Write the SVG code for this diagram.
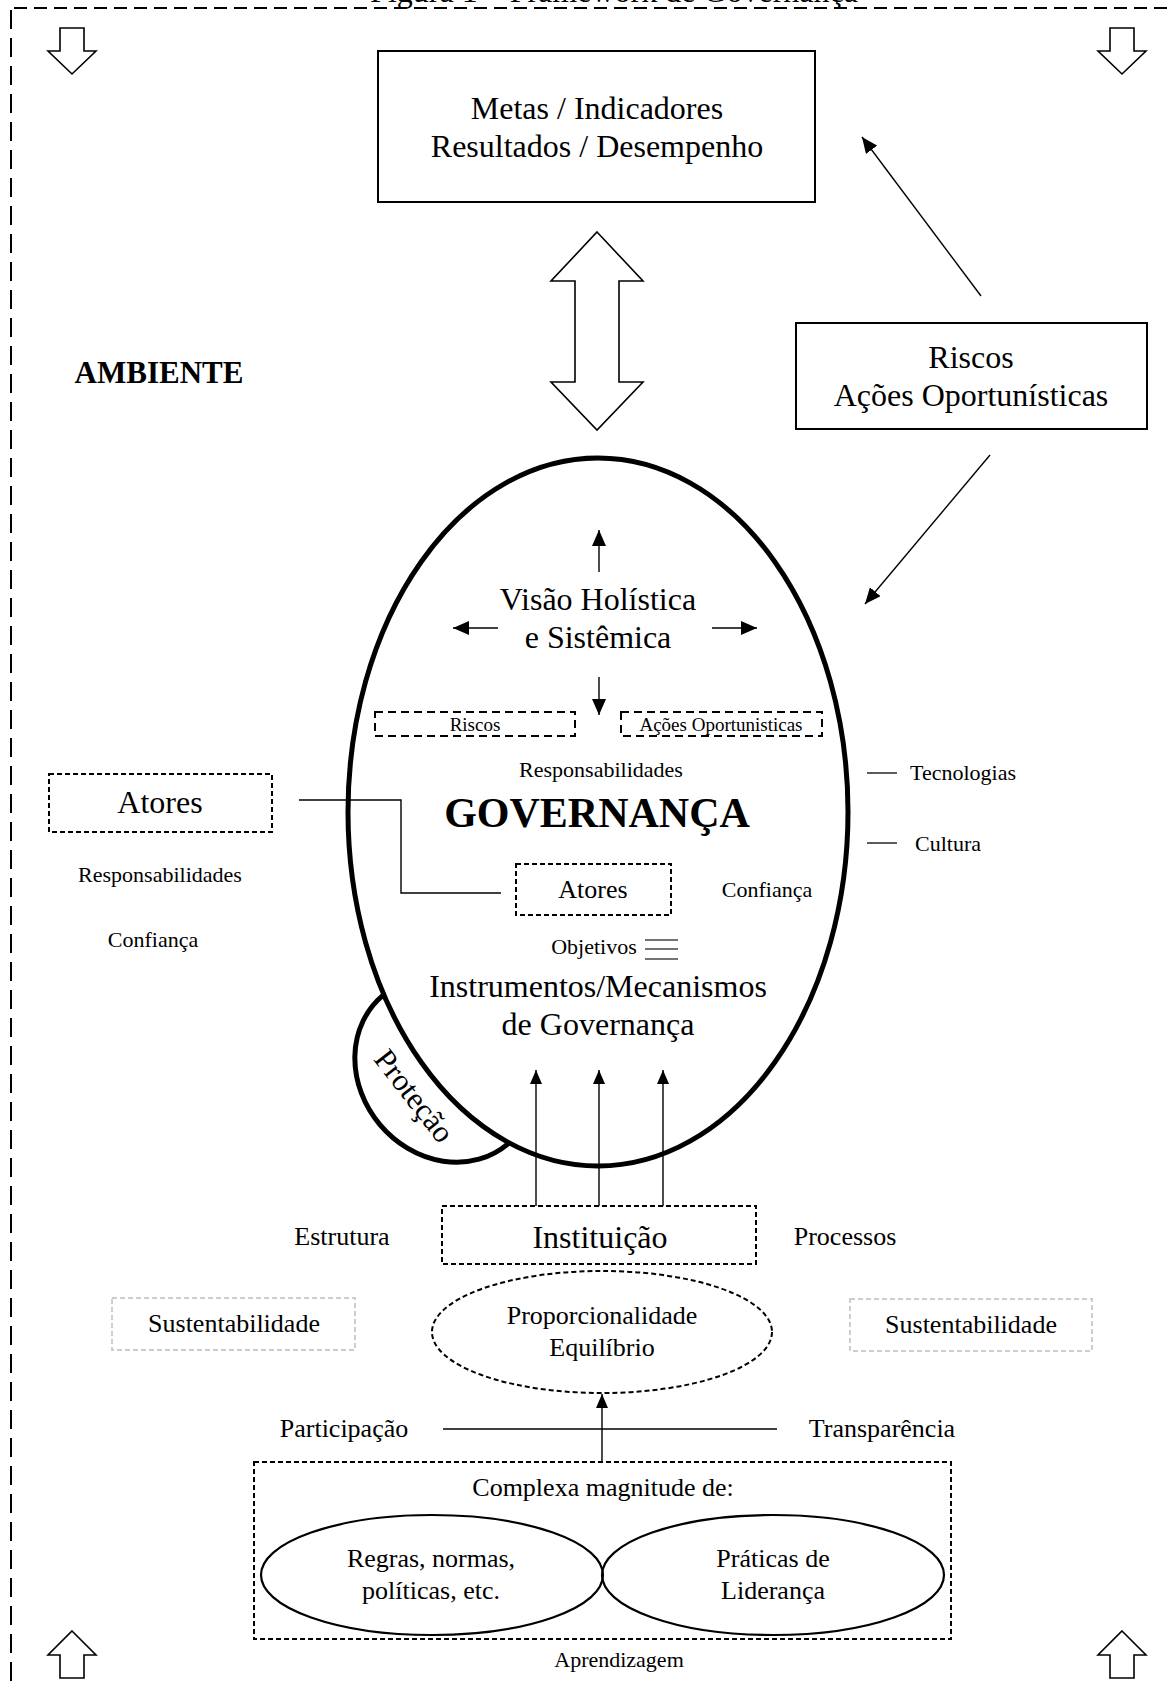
<svg xmlns="http://www.w3.org/2000/svg" width="1172" height="1690" viewBox="0 0 1172 1690">
<style>
text{font-family:"Liberation Serif","Times New Roman",serif;fill:#000;text-anchor:middle}
.t32{font-size:32px}
.t26{font-size:26px}
.t22{font-size:22px}
.t19{font-size:19px}
.box{fill:#fff;stroke:#000;stroke-width:2}
.dbox{fill:none;stroke:#000;stroke-width:2;stroke-dasharray:5 3}
.dsmall{fill:none;stroke:#000;stroke-width:2;stroke-dasharray:8 5}
.gbox{fill:none;stroke:#cdcdcd;stroke-width:2;stroke-dasharray:5 3}
.hollow{fill:#fff;stroke:#000;stroke-width:1.6;stroke-linejoin:miter}
.ln{fill:none;stroke:#000;stroke-width:1.4}
.thick{fill:#fff;stroke:#000;stroke-width:5}
</style>
<defs>
<marker id="ah" markerUnits="userSpaceOnUse" markerWidth="16" markerHeight="14" refX="16" refY="7" orient="auto">
<path d="M0,0 L16,7 L0,14 z" fill="#000"/>
</marker>
<marker id="ahs" markerUnits="userSpaceOnUse" markerWidth="14" markerHeight="12" refX="14" refY="6" orient="auto">
<path d="M0,0 L14,6 L0,12 z" fill="#000"/>
</marker>
</defs>

<g id="frame">
<text class="t32" x="614" y="2">Figura 1 – Framework de Governança</text>
<line x1="14" y1="8" x2="1172" y2="8" stroke="#000" stroke-width="2" stroke-dasharray="13 7"/>
<line x1="11" y1="10" x2="11" y2="1690" stroke="#000" stroke-width="2" stroke-dasharray="19 9"/>
</g>

<g id="env-arrows">
<polygon class="hollow" points="60,28 84,28 84,51 96,51 72,74 48,51 60,51"/>
<polygon class="hollow" points="1110,28 1134,28 1134,51 1146,51 1122,74 1098,51 1110,51"/>
<polygon class="hollow" points="72,1631 96,1655 84,1655 84,1678 60,1678 60,1655 48,1655"/>
<polygon class="hollow" points="1122,1631 1146,1655 1134,1655 1134,1678 1110,1678 1110,1655 1098,1655"/>
</g>

<g id="ambiente"><text x="159" y="383" style="font-size:31px;font-weight:bold">AMBIENTE</text></g>

<g id="metas">
<rect class="box" x="378" y="51" width="437" height="151"/>
<text class="t32" x="597" y="119">Metas / Indicadores</text>
<text class="t32" x="597" y="157">Resultados / Desempenho</text>
</g>

<g id="riscos-box">
<rect class="box" x="796" y="323" width="351" height="106"/>
<text class="t32" x="971" y="368">Riscos</text>
<text class="t32" x="971" y="406">Ações Oportunísticas</text>
</g>

<g id="double-arrow">
<polygon class="hollow" points="597,232 643,281 619,281 619,382 643,382 597,430 551,382 575,382 575,281 551,281"/>
</g>

<g id="protecao">
<ellipse class="thick" cx="445" cy="1070" rx="97" ry="85" transform="rotate(50 445 1070)"/>
<text transform="translate(414 1096) rotate(52)" x="0" y="10" style="font-size:31px">Proteção</text>
</g>

<g id="governanca">
<ellipse class="thick" cx="598" cy="812" rx="250" ry="354"/>
<text class="t32" x="598" y="610">Visão Holística</text>
<text class="t32" x="598" y="648">e Sistêmica</text>
<text class="t22" x="601" y="777">Responsabilidades</text>
<text x="597" y="827" style="font-size:42px;font-weight:bold">GOVERNANÇA</text>
<text class="t22" x="767" y="897">Confiança</text>
<text class="t22" x="594" y="954">Objetivos</text>
<line x1="645" y1="940" x2="678" y2="940" stroke="#444" stroke-width="1.6"/>
<line x1="645" y1="949" x2="678" y2="949" stroke="#444" stroke-width="1.6"/>
<line x1="645" y1="959" x2="678" y2="959" stroke="#444" stroke-width="1.6"/>
<text class="t32" x="598" y="997">Instrumentos/Mecanismos</text>
<text class="t32" x="598" y="1035">de Governança</text>
</g>

<g id="inner-riscos">
<rect class="dsmall" x="375" y="712" width="200" height="24"/>
<text class="t19" x="475" y="731">Riscos</text>
</g>
<g id="inner-acoes">
<rect class="dsmall" x="621" y="712" width="201" height="24"/>
<text class="t19" x="721" y="731">Ações Oportunisticas</text>
</g>

<g id="atores-inner">
<rect class="dbox" x="516" y="864" width="155" height="51"/>
<text class="t26" x="593" y="898">Atores</text>
</g>

<g id="atores-outer">
<rect class="dbox" x="49" y="774" width="223" height="58"/>
<text class="t32" x="160" y="813">Atores</text>
<text class="t22" x="160" y="882">Responsabilidades</text>
<text class="t22" x="153" y="947">Confiança</text>
</g>

<g id="tecnologias">
<line x1="867" y1="773" x2="897" y2="773" stroke="#333" stroke-width="1.6"/>
<text class="t22" x="910" y="780" style="text-anchor:start">Tecnologias</text>
</g>
<g id="cultura">
<line x1="867" y1="843" x2="897" y2="843" stroke="#333" stroke-width="1.6"/>
<text class="t22" x="915" y="851" style="text-anchor:start">Cultura</text>
</g>

<g id="instituicao">
<rect class="dbox" x="442" y="1206" width="314" height="58"/>
<text class="t32" x="600" y="1248">Instituição</text>
<text class="t26" x="342" y="1245">Estrutura</text>
<text class="t26" x="845" y="1245">Processos</text>
</g>

<g id="sust-left">
<rect class="gbox" x="112" y="1298" width="243" height="52"/>
<text class="t26" x="234" y="1332">Sustentabilidade</text>
</g>
<g id="sust-right">
<rect class="gbox" x="850" y="1299" width="242" height="52"/>
<text class="t26" x="971" y="1333">Sustentabilidade</text>
</g>

<g id="proporcionalidade">
<ellipse class="dbox" cx="602" cy="1332" rx="170" ry="61"/>
<text class="t26" x="602" y="1324">Proporcionalidade</text>
<text class="t26" x="602" y="1356">Equilíbrio</text>
</g>

<g id="participacao">
<text class="t26" x="344" y="1437">Participação</text>
<text class="t26" x="882" y="1437">Transparência</text>
</g>

<g id="complexa">
<rect class="dbox" x="254" y="1462" width="697" height="177"/>
<text class="t26" x="603" y="1496">Complexa magnitude de:</text>
<ellipse cx="432" cy="1575" rx="171" ry="60" fill="none" stroke="#000" stroke-width="2.2"/>
<ellipse cx="773" cy="1575" rx="171" ry="60" fill="none" stroke="#000" stroke-width="2.2"/>
<text class="t26" x="431" y="1567">Regras, normas,</text>
<text class="t26" x="431" y="1599">políticas, etc.</text>
<text class="t26" x="773" y="1567">Práticas de</text>
<text class="t26" x="773" y="1599">Liderança</text>
</g>

<g id="aprendizagem"><text class="t22" x="619" y="1667">Aprendizagem</text></g>

<g id="connectors">
<line class="ln" x1="981" y1="296" x2="862" y2="137" marker-end="url(#ah)"/>
<line class="ln" x1="990" y1="455" x2="865" y2="604" marker-end="url(#ah)"/>
<line class="ln" x1="599" y1="572" x2="599" y2="530" marker-end="url(#ah)"/>
<line class="ln" x1="498" y1="628" x2="453" y2="628" marker-end="url(#ah)"/>
<line class="ln" x1="712" y1="628" x2="757" y2="628" marker-end="url(#ah)"/>
<line class="ln" x1="599" y1="677" x2="599" y2="715" marker-end="url(#ah)"/>
<polyline class="ln" points="299,800 401,800 401,893 501,893"/>
<line class="ln" x1="536" y1="1206" x2="536" y2="1070" marker-end="url(#ahs)"/>
<line class="ln" x1="599" y1="1206" x2="599" y2="1070" marker-end="url(#ahs)"/>
<line class="ln" x1="663" y1="1206" x2="663" y2="1070" marker-end="url(#ahs)"/>
<line class="ln" x1="602" y1="1462" x2="602" y2="1394" marker-end="url(#ahs)"/>
<line class="ln" x1="443" y1="1429" x2="777" y2="1429"/>
</g>
</svg>
